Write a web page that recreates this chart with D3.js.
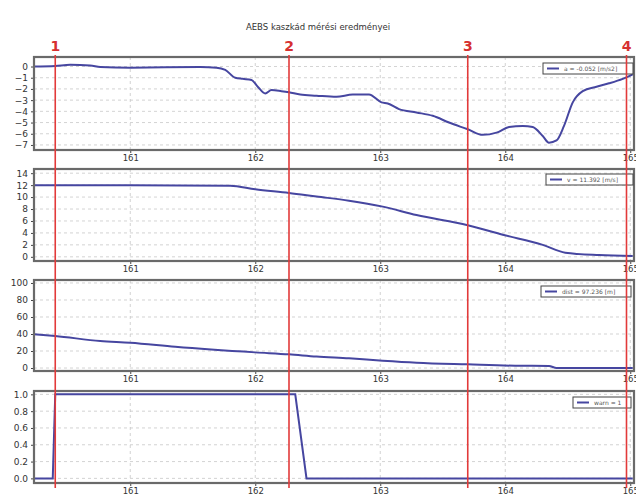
<!DOCTYPE html>
<html><head><meta charset="utf-8">
<script src="https://cdn.jsdelivr.net/npm/d3@7"></script>
<style>body{margin:0;background:#fff}svg{display:block}text{font-family:"DejaVu Sans",sans-serif}</style>
</head><body>
<svg id="c" width="636" height="496"></svg>
<script>
const title = "AEBS kaszkád mérési eredményei";
const markerTimes = [160.40, 162.27, 163.70, 164.97];
const markerLabels = ["1","2","3","4"];
const xTicks = [161, 162, 163, 164, 165];

const accT = [160.23,160.40,160.52,160.68,160.76,161.00,161.56,161.69,161.76,161.84,161.90,161.97,162.02,162.08,162.13,162.21,162.27,162.36,162.49,162.65,162.78,162.91,163.01,163.06,163.15,163.29,163.42,163.55,163.70,163.82,163.93,164.03,164.14,164.22,164.30,164.35,164.41,164.47,164.54,164.62,164.73,164.83,164.94,165.02];
const accV = [0,0.05,0.15,0.1,-0.05,-0.1,-0.05,-0.1,-0.3,-1.0,-1.1,-1.2,-1.8,-2.4,-2.1,-2.2,-2.3,-2.5,-2.6,-2.7,-2.5,-2.5,-3.2,-3.3,-3.8,-4.1,-4.4,-5.0,-5.6,-6.1,-5.9,-5.4,-5.3,-5.4,-6.2,-6.8,-6.6,-5.3,-3.2,-2.2,-1.8,-1.5,-1.1,-0.7];
const velT = [160.23,161.00,161.80,162.00,162.27,162.49,162.75,163.02,163.29,163.70,163.98,164.30,164.48,164.75,165.02];
const velV = [12.0,12.0,11.9,11.3,10.7,10.1,9.4,8.4,7.0,5.3,3.7,2.0,0.7,0.3,0.15];
const distT = [160.23,160.40,160.76,161.00,161.36,162.00,162.27,162.49,162.75,163.02,163.29,163.70,164.08,164.35,164.41,165.02];
const distV = [39.6,37.6,31.8,29.8,25.0,18.4,16.1,13.5,11.4,8.6,6.3,4.3,2.7,2.4,0,0];
const warnT = [160.23,160.38,160.40,162.32,162.41,165.02];
const warnV = [0,0,1,1,0,0];

const panels = [
  {t: accT, v: accV, dom: [-7.45, 0.85], ticks: d3.range(-7, 1, 1), fmt: d3.format("d"), top: 57, bot: 150, legend: "a = -0.052 [m/s2]", lx: 543, ly: 63, lw: 90},
  {t: velT, v: velV, dom: [-0.7, 14.7], ticks: d3.range(0, 15, 2), fmt: d3.format("d"), top: 169, bot: 261, legend: "v = 11.392 [m/s]", lx: 546, ly: 174, lw: 87},
  {t: distT, v: distV, dom: [-3.5, 103.5], ticks: d3.range(0, 101, 20), fmt: d3.format("d"), top: 280, bot: 371, legend: "dist = 97.236 [m]", lx: 541, ly: 286, lw: 90},
  {t: warnT, v: warnV, dom: [-0.055, 1.04], ticks: [0,0.2,0.4,0.6,0.8,1.0], fmt: d3.format(".1f"), top: 391, bot: 483, legend: "warn = 1", lx: 573, ly: 397, lw: 58}
];

const svg = d3.select("#c");
const L = 34, R = 634;
const x = d3.scaleLinear().domain([160.23, 165.03]).range([L, R]);

svg.append("text").attr("x", 318).attr("y", 30).attr("text-anchor", "middle")
  .attr("font-size", 8.5).attr("fill", "#333").text(title);

panels.forEach(p => {
  const y = d3.scaleLinear().domain(p.dom).range([p.bot, p.top]);
  const g = svg.append("g");
  // grid
  g.selectAll(".gy").data(p.ticks).join("line")
    .attr("x1", L).attr("x2", R).attr("y1", d => y(d)).attr("y2", d => y(d))
    .attr("stroke", "#c8c8c8").attr("stroke-width", 0.8).attr("stroke-dasharray", "3,3");
  g.selectAll(".gx").data(xTicks).join("line")
    .attr("x1", d => x(d)).attr("x2", d => x(d)).attr("y1", p.top).attr("y2", p.bot)
    .attr("stroke", "#c8c8c8").attr("stroke-width", 0.8).attr("stroke-dasharray", "3,3");
  // axes
  const ya = d3.axisLeft(y).tickValues(p.ticks).tickFormat(p.fmt).tickSize(3).tickPadding(3);
  const ga = g.append("g").attr("transform", `translate(${L},0)`).call(ya);
  ga.select(".domain").remove();
  ga.selectAll("text").attr("font-size", 9).attr("fill", "#333").attr("font-family", "DejaVu Sans");
  ga.selectAll("line").attr("stroke", "#444");
  const xa = d3.axisBottom(x).tickValues(xTicks).tickFormat(d3.format("d")).tickSize(3).tickPadding(2);
  const gx = g.append("g").attr("transform", `translate(0,${p.bot})`).call(xa);
  gx.select(".domain").remove();
  gx.selectAll("text").attr("font-size", 8.5).attr("fill", "#333").attr("font-family", "DejaVu Sans");
  gx.selectAll("line").attr("stroke", "#444");
  // line
  const line = d3.line().x((d, i) => x(p.t[i])).y(d => y(d)).curve(d3.curveMonotoneX);
  g.append("path").datum(p.v).attr("d", p === panels[3] ? d3.line().x((d, i) => x(p.t[i])).y(d => y(d))(p.v) : line)
    .attr("fill", "none").attr("stroke", "#4646a0").attr("stroke-width", 2);
  // frame
  g.append("rect").attr("x", L).attr("y", p.top).attr("width", R - L).attr("height", p.bot - p.top)
    .attr("fill", "none").attr("stroke", "#6a6a6a").attr("stroke-width", 2.2);
  // legend
  const lg = g.append("g").attr("transform", `translate(${p.lx},${p.ly})`);
  lg.append("rect").attr("width", p.lw).attr("height", 11).attr("fill", "#fff").attr("stroke", "#444").attr("stroke-width", 1);
  lg.append("line").attr("x1", 4).attr("x2", 16).attr("y1", 5.5).attr("y2", 5.5).attr("stroke", "#4646a0").attr("stroke-width", 2);
  lg.append("text").attr("x", 21).attr("y", 8).attr("font-size", 6).attr("fill", "#555").text(p.legend);
});

// red marker lines
svg.selectAll(".mk").data(markerTimes).join("line")
  .attr("x1", d => x(d)).attr("x2", d => x(d)).attr("y1", 55).attr("y2", 488)
  .attr("stroke", "#e23a3a").attr("stroke-width", 1.6);
svg.selectAll(".ml").data(markerTimes).join("text")
  .attr("x", d => x(d)).attr("y", 51).attr("text-anchor", "middle")
  .attr("font-size", 14).attr("font-weight", "bold").attr("fill", "#d63030")
  .attr("font-family", "Liberation Sans, Arial, sans-serif")
  .text((d, i) => markerLabels[i]);
</script>
</body></html>
